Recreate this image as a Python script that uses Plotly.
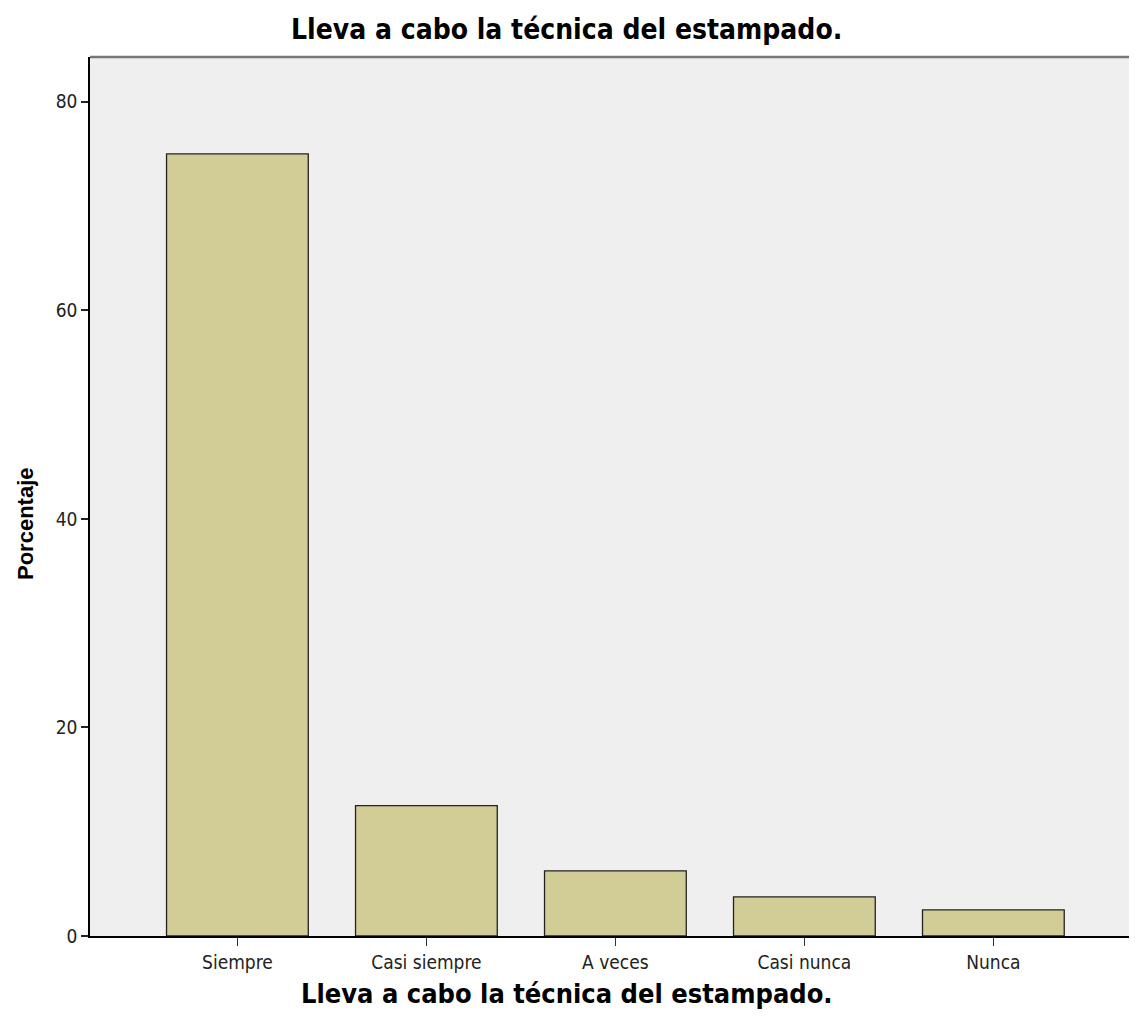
import plotly.graph_objects as go

categories = ["Siempre", "Casi siempre", "A veces", "Casi nunca", "Nunca"]
porcentaje = [75.0, 12.5, 6.25, 3.75, 2.5]
y_ticks = [0, 20, 40, 60, 80]

title_text = "Lleva a cabo la técnica del estampado."
narrow = "DejaVu Sans Condensed, Liberation Sans Narrow, Arial Narrow, Liberation Sans, sans-serif"

# page body has an 8px default margin; figure is sized to fit the rest
W, H = 1129, 1019
L, T = 82, 49
B = H - T - (936 - 57)
plot_w = W - L
plot_h = H - T - B

fig = go.Figure(go.Bar(
    x=categories, y=porcentaje,
    marker=dict(color="#D2CD96", line=dict(color="#222222", width=1.3)),
    width=0.75,
))

fig.update_layout(
    width=W, height=H,
    margin=dict(l=L, r=0, t=T, b=B),
    paper_bgcolor="white", plot_bgcolor="#EFEFEF",
    showlegend=False,
    bargap=0.25,
)
fig.update_xaxes(
    range=[-0.78, 4.76], showline=True, linecolor="black", linewidth=1.5,
    ticks="outside", ticklen=8, tickcolor="#333333", tickwidth=1.3,
    tickfont=dict(family=narrow, size=19, color="#222222"),
    showgrid=False, zeroline=False,
)
fig.update_yaxes(
    range=[0, 84.3], tickvals=y_ticks, showline=True, linecolor="black", linewidth=1.5,
    ticks="outside", ticklen=7, tickcolor="#222222", tickwidth=1.5,
    tickfont=dict(family=narrow, size=19, color="#222222"),
    showgrid=False, zeroline=False,
)
# top title
fig.add_annotation(
    text=title_text, xref="paper", yref="paper",
    x=(566 - 8 - L) / plot_w, y=1 + (57 - 30) / plot_h, xanchor="center", yanchor="middle",
    showarrow=False, font=dict(family=narrow, size=28, color="black", weight="bold"),
)
# x-axis title
fig.add_annotation(
    text=title_text, xref="paper", yref="paper",
    x=(567 - 8 - L) / plot_w, y=-(993 - 936) / plot_h, xanchor="center", yanchor="middle",
    showarrow=False, font=dict(family=narrow, size=27, color="black", weight="bold"),
)
# y-axis title
fig.add_annotation(
    text="Porcentaje", xref="paper", yref="paper",
    x=-(90 - 25) / plot_w, y=(936 - 524) / plot_h, xanchor="center", yanchor="middle",
    textangle=-90, showarrow=False,
    font=dict(family="Liberation Sans, Arial, sans-serif", size=22, color="black", weight="bold"),
)
fig.add_shape(type="line", xref="paper", yref="paper", x0=0, x1=1, y0=1, y1=1,
              line=dict(color="#777777", width=2.5))

fig.write_html("out.html")
